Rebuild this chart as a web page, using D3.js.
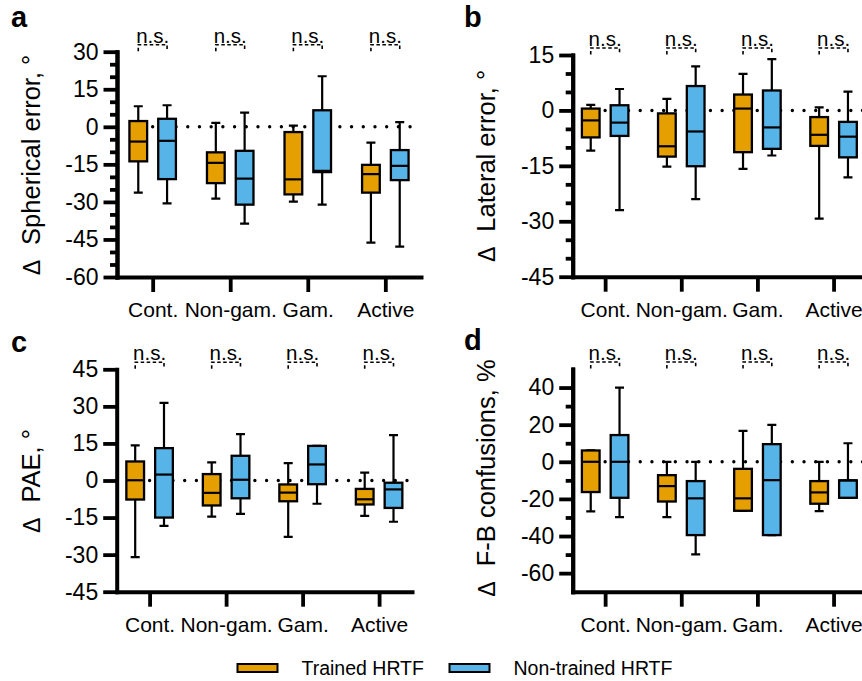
<!DOCTYPE html>
<html>
<head>
<meta charset="utf-8">
<script src="https://cdn.jsdelivr.net/npm/d3@7"></script>
<style>
  body { margin: 0; background: #fff; }
  text { font-family: "Liberation Sans", Arial, Helvetica, sans-serif; fill: #000; }
</style>
</head>
<body>
<svg id="chart" width="862" height="681"></svg>
<script>
var categories = ["Cont.", "Non-gam.", "Gam.", "Active"];
var series = ["Trained HRTF", "Non-trained HRTF"];
var colors = ["#E69F00", "#56B4E9"];

// each box: [min, q1, median, q3, max]
var sphericalTrained = [[-26.3, -13.8, -5.9, 2.3, 8.2], [-28.7, -22.5, -14.4, -10.2, 1.6], [-29.9, -27, -21, -2.1, 0.5], [-46.3, -26.3, -18.9, -15.2, -6.3]];
var sphericalNonTrained = [[-30.6, -20.9, -5.6, 3.2, 8.6], [-38.7, -31.1, -20.7, -9.6, 5.7], [-31.1, -18.1, -17.6, 6.6, 20.2], [-47.9, -21.3, -15.6, -9.3, 1.9]];
var lateralTrained = [[-10.9, -7.3, -2.7, 0.5, 1.5], [-15.2, -12.5, -9.7, -0.8, 3.1], [-15.8, -11.3, 0.5, 4.3, 9.9], [-29.3, -9.6, -6.6, -1.8, 0.8]];
var lateralNonTrained = [[-27, -6.9, -3.3, 1.4, 5.8], [-24, -15.1, -5.7, 6.6, 11.9], [-12.2, -10.4, -4.6, 5.4, 13.9], [-18.1, -12.7, -7.1, -3.1, 5.1]];
var paeTrained = [[-31, -7.7, 0.1, 7.7, 14.2], [-14.6, -10.1, -5, 2.6, 7.3], [-22.8, -8.4, -4.9, -1.6, 7], [-14.3, -9.7, -7.6, -3.4, 3.2]];
var paeNonTrained = [[-18.4, -15, 2.4, 13.1, 31.4], [-13.5, -7.2, 0.3, 10, 18.8], [-9.4, -1.5, 6.5, 14, 14], [-16.7, -11.1, -3.6, -0.9, 18.4]];
var fbTrained = [[-26.7, -16.3, 0, 6.1, 6.1], [-29.8, -21.4, -13.1, -7.2, 0], [-26.4, -26.4, -19.7, -3.8, 16.7], [-26.6, -22.6, -16.5, -10.4, 0]];
var fbNonTrained = [[-29.8, -19.4, 0, 14.4, 40], [-49.9, -39.5, -19.7, -10.4, 0], [-39.5, -39.5, -9.9, 9.5, 19.9], [-19.4, -19.4, -10, -10, 10]];

var sphericalTicks = [30, 15, 0, -15, -30, -45, -60];
var lateralTicks = [15, 0, -15, -30, -45];
var paeTicks = [45, 30, 15, 0, -15, -30, -45];
var fbTicks = [40, 20, 0, -20, -40, -60];

var svg = d3.select("#chart");

var panels = [
  { letter: "a", title: "Spherical error, °", data: [sphericalTrained, sphericalNonTrained],
    domain: [-60, 30], ticks: sphericalTicks, minor: d3.range(-55, 30, 5).filter(function(v) { return v % 15 != 0; }),
    x0: 117, x1: 421, pad: 0.46, top: 51.7, bottom: 277, lx: 11, ly: 27, tx: 40, ty: 165 },
  { letter: "b", title: "Lateral error, °", data: [lateralTrained, lateralNonTrained],
    domain: [-45, 15], ticks: lateralTicks, minor: d3.range(-40, 15, 5).filter(function(v) { return v % 15 != 0; }),
    x0: 572.7, x1: 866, pad: 0.426, top: 55, bottom: 276.7, lx: 464, ly: 27, tx: 495, ty: 166 },
  { letter: "c", title: "PAE, °", data: [paeTrained, paeNonTrained],
    domain: [-45, 45], ticks: paeTicks, minor: [],
    x0: 116.7, x1: 412, pad: 0.43, top: 369.3, bottom: 591.7, lx: 11, ly: 352, tx: 40, ty: 481 },
  { letter: "d", title: "F-B confusions, %", data: [fbTrained, fbNonTrained],
    domain: [-70, 50], ticks: fbTicks, minor: [30, 10, -10, -30, -50],
    x0: 572.7, x1: 866, pad: 0.426, top: 369, bottom: 591.7, lx: 464, ly: 350, tx: 495, ty: 478 }
];

function styleAxis(g) {
  g.select(".domain").style("stroke", "#000").style("stroke-width", "4px").style("stroke-linecap", "square");
  g.selectAll(".tick line").style("stroke", "#000").style("stroke-width", "3.8px");
  g.selectAll("text").attr("fill", "#000").style("font-family", "'Liberation Sans', Arial, sans-serif");
}

function drawPanel(p) {
  var x = d3.scalePoint().domain(categories).range([p.x0, p.x1]).padding(p.pad);
  var sub = d3.scaleBand().domain(series).range([-28.8, 28.8]);
  var y = d3.scaleLinear().domain(p.domain).range([p.bottom, p.top]);
  var bw = 17.7, cap = 4.5;
  var g = svg.append("g");

  // dotted zero line
  g.append("line")
    .attr("x1", x(categories[0])).attr("x2", p.x1)
    .attr("y1", y(0)).attr("y2", y(0))
    .attr("stroke", "#000").attr("stroke-width", 3.4)
    .attr("stroke-linecap", "round").attr("stroke-dasharray", "0,11.7");

  // axes
  if (p.minor.length) {
    g.append("g").attr("transform", "translate(" + p.x0 + ",0)")
      .call(d3.axisLeft(y).tickValues(p.minor).tickSize(7).tickSizeOuter(0).tickFormat(""))
      .call(styleAxis);
  }
  g.append("g").attr("transform", "translate(" + p.x0 + ",0)")
    .call(d3.axisLeft(y).tickValues(p.ticks).tickSize(13.5).tickPadding(5).tickSizeOuter(0)
      .tickFormat(function(d) { return String(d); }))
    .call(styleAxis)
    .selectAll("text").style("font-size", "23px");
  g.append("g").attr("transform", "translate(0," + p.bottom + ")")
    .call(d3.axisBottom(x).tickSize(15).tickPadding(10).tickSizeOuter(0))
    .call(styleAxis)
    .selectAll("text").style("font-size", "21px");

  // boxes
  series.forEach(function(s, si) {
    var grp = g.append("g").selectAll("g").data(p.data[si]).enter().append("g")
      .attr("transform", function(d, i) { return "translate(" + (x(categories[i]) + sub(s) + sub.bandwidth() / 2) + ",0)"; });
    grp.append("path")
      .attr("d", function(d) {
        return "M0," + y(d[0]) + "V" + y(d[1]) + "M0," + y(d[3]) + "V" + y(d[4]) +
          "M" + (-cap) + "," + y(d[0]) + "H" + cap + "M" + (-cap) + "," + y(d[4]) + "H" + cap;
      })
      .attr("stroke", "#000").attr("stroke-width", 2.2).attr("fill", "none");
    grp.append("rect")
      .attr("x", -bw / 2).attr("width", bw)
      .attr("y", function(d) { return y(d[3]); })
      .attr("height", function(d) { return y(d[1]) - y(d[3]); })
      .attr("fill", colors[si]).attr("stroke", "#000").attr("stroke-width", 2.3);
    grp.append("line")
      .attr("x1", -bw / 2).attr("x2", bw / 2)
      .attr("y1", function(d) { return y(d[2]); }).attr("y2", function(d) { return y(d[2]); })
      .attr("stroke", "#000").attr("stroke-width", 2.2);
  });

  // n.s. brackets
  var ns = g.append("g").selectAll("g").data(categories).enter().append("g")
    .attr("transform", function(c) { return "translate(" + x(c) + "," + (p.top - 9) + ")"; });
  var half = sub.bandwidth() / 2;
  ns.append("text").attr("text-anchor", "middle").style("font-size", "20.5px").text("n.s.");
  ns.append("path")
    .attr("d", "M" + (-half) + ",8.5V2H" + half + "V8.5")
    .attr("stroke", "#000").attr("stroke-width", 1.6).attr("fill", "none")
    .attr("stroke-dasharray", "3.5,2.5");

  // panel letter
  svg.append("text").attr("x", p.lx).attr("y", p.ly)
    .style("font-size", "29px").style("font-weight", "bold").text(p.letter);

  // y title
  var t = svg.append("text")
    .attr("transform", "translate(" + p.tx + "," + p.ty + ") rotate(-90)")
    .attr("text-anchor", "middle").style("font-size", "25.5px");
  t.append("tspan").style("font-size", "23px").text("Δ");
  t.append("tspan").attr("dx", 15).text(p.title);
}

panels.forEach(drawPanel);

// legend
var legend = svg.append("g").selectAll("g").data(series).enter().append("g")
  .attr("transform", function(d, i) { return "translate(" + [237.5, 449.5][i] + ",664)"; });
legend.append("rect").attr("width", 40).attr("height", 8)
  .attr("fill", function(d, i) { return colors[i]; })
  .attr("stroke", "#000").attr("stroke-width", 2);
legend.append("text").attr("x", 64).attr("y", 11)
  .style("font-size", "19.5px").text(function(d) { return d; });
</script>
</body>
</html>
